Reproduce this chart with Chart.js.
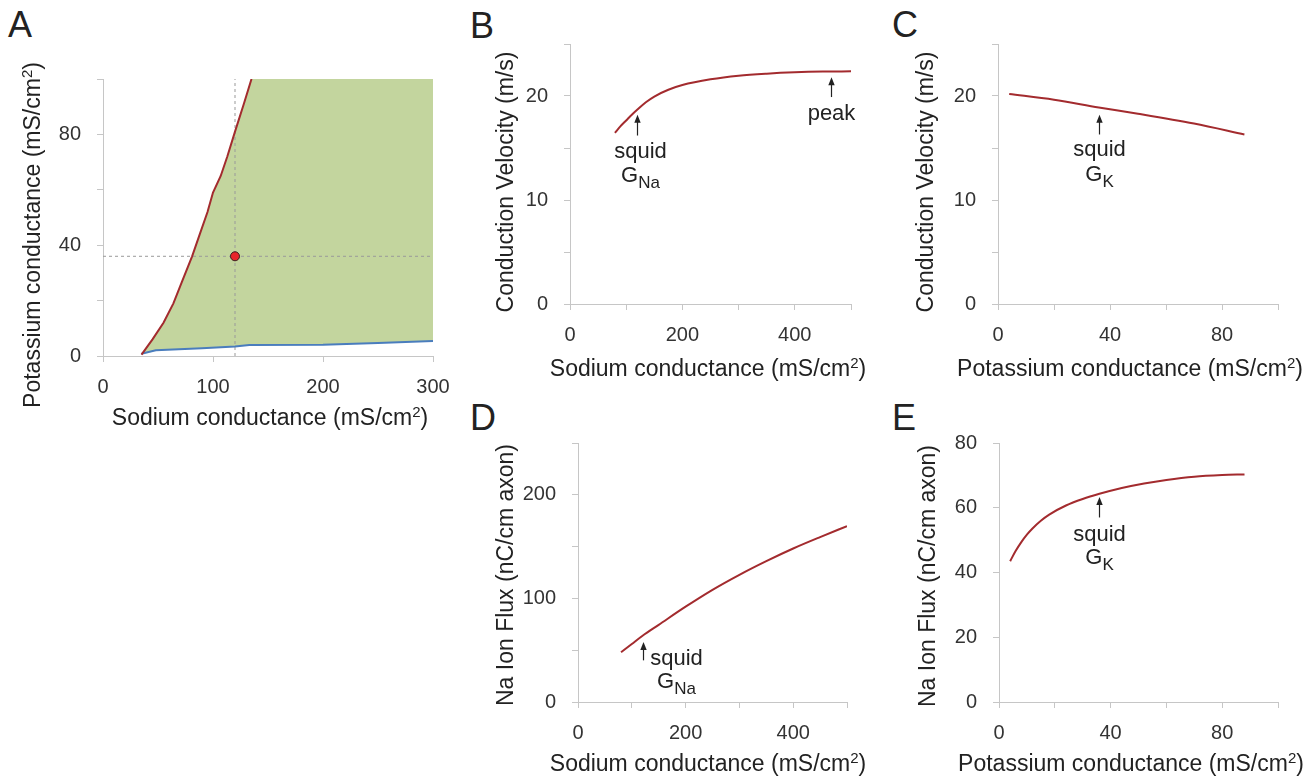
<!DOCTYPE html>
<html>
<head>
<meta charset="utf-8">
<script src="https://cdn.jsdelivr.net/npm/chart.js@4.4.1/dist/chart.umd.min.js"></script>
<style>
  body { margin: 0; background: #fff; }
  #page { position: relative; width: 1308px; height: 778px; overflow: hidden; }
  #page canvas { position: absolute; }
  .tag { position: absolute; font: 36px "Liberation Sans", Arial, sans-serif; line-height: 36px; color: #222; }
</style>
</head>
<body>
<div id="page">
  <div class="tag" style="left:8px;top:7px">A</div>
  <div class="tag" style="left:470px;top:8px">B</div>
  <div class="tag" style="left:892px;top:7px">C</div>
  <div class="tag" style="left:470px;top:400px">D</div>
  <div class="tag" style="left:892px;top:400px">E</div>
  <canvas id="chartA" width="463" height="440" style="left:0;top:0"></canvas>
  <canvas id="chartB" width="430" height="400" style="left:460px;top:0"></canvas>
  <canvas id="chartC" width="418" height="400" style="left:890px;top:0"></canvas>
  <canvas id="chartD" width="430" height="378" style="left:460px;top:400px"></canvas>
  <canvas id="chartE" width="418" height="378" style="left:890px;top:400px"></canvas>
</div>
<script>
// squid axon values
const squidNa = 120;
const squidK = 36;

// A: region of conduction (upper = red boundary, lower = blue boundary)
const redNa = [35, 45, 55, 64, 72, 81, 88, 95, 100, 107, 113, 120, 128, 135];
const redK  = [0.5, 6, 12, 19, 27, 36, 44, 52, 59, 65, 72, 81, 91, 100];
const blueNa = [35, 48, 90, 120, 133, 200, 250, 300];
const blueK  = [0.8, 2.1, 2.8, 3.4, 4.0, 4.1, 4.7, 5.4];

// B: conduction velocity vs sodium conductance
const bNa = [80, 90, 100, 110, 120, 135, 150, 175, 200, 250, 300, 350, 400, 450, 500];
const bVel = [16.45, 17.1, 17.65, 18.2, 18.7, 19.4, 19.95, 20.6, 21.05, 21.6, 21.95, 22.15, 22.28, 22.35, 22.37];
const peakNa = 464;

// C: conduction velocity vs potassium conductance
const cK = [4, 20, 36, 50, 70, 88];
const cVel = [20.2, 19.65, 18.9, 18.3, 17.35, 16.3];

// D: Na ion flux vs sodium conductance
const dNa = [80, 100, 120, 150, 200, 250, 300, 350, 400, 450, 500];
const dFlux = [48, 56, 64, 74.5, 92, 108.3, 122.8, 136, 148.2, 159.2, 169.7];

// E: Na ion flux vs potassium conductance
const eK = [4, 6, 8, 10, 12, 15, 18, 24, 30, 36, 44, 52, 60, 70, 80, 88];
const eFlux = [43.5, 46.7, 49.4, 51.7, 53.6, 56.0, 57.9, 60.7, 62.7, 64.3, 66.1, 67.5, 68.6, 69.6, 70.1, 70.3];

const naTitle = 'Sodium conductance';
const kTitle = 'Potassium conductance';
const cvTitle = 'Conduction Velocity (m/s)';
const fluxTitle = 'Na Ion Flux (nC/cm axon)';

const FONT = '"Liberation Sans", Arial, sans-serif';
const axisGray = '#c6c6c6';
const lineRed = '#a32b2e';
const textCol = '#222';

const pts = (xs, ys) => xs.map((x, i) => ({x: x, y: ys[i]}));

// text made of pieces of different size (superscript / subscript)
const richText = (ctx, parts, cx, cy, rot) => {
    let total = 0;
    parts.forEach(p => {
        ctx.font = p.size + 'px ' + FONT;
        p.w = ctx.measureText(p.t).width;
        total += p.w;
    });
    ctx.save();
    ctx.translate(cx, cy);
    ctx.rotate(rot || 0);
    ctx.textAlign = 'left';
    ctx.textBaseline = 'alphabetic';
    let x = -total / 2;
    parts.forEach(p => {
        ctx.font = p.size + 'px ' + FONT;
        ctx.fillText(p.t, x, 8 + (p.dy || 0));
        x += p.w;
    });
    ctx.restore();
};

const unitParts = (label) => [
    { t: label + ' (mS/cm', size: 23 },
    { t: '2', size: 15, dy: -8 },
    { t: ')', size: 23 }
];

// axis titles, arrows and "squid G" labels
const notesPlugin = {
    id: 'notes',
    afterDraw(chart, args, opts) {
        const ctx = chart.ctx;
        const sx = chart.scales.x, sy = chart.scales.y;
        ctx.save();
        ctx.fillStyle = textCol;
        ctx.strokeStyle = textCol;
        if (opts.xTitle) {
            const t = opts.xTitle;
            richText(ctx, t.parts, t.cx, t.cy, 0);
        }
        if (opts.yTitle) {
            const t = opts.yTitle;
            richText(ctx, t.parts, t.cx, t.cy, -Math.PI / 2);
        }
        (opts.items || []).forEach(n => {
            const px = Math.round(sx.getPixelForValue(n.x)) + 0.5;
            const tipY = sy.getPixelForValue(n.tip);
            const tailY = sy.getPixelForValue(n.tail);
            ctx.lineWidth = 1.2;
            ctx.beginPath();
            ctx.moveTo(px, tailY);
            ctx.lineTo(px, tipY + 5);
            ctx.stroke();
            ctx.beginPath();
            ctx.moveTo(px, tipY);
            ctx.lineTo(px - 3.2, tipY + 8);
            ctx.lineTo(px + 3.2, tipY + 8);
            ctx.closePath();
            ctx.fill();

            const cx = px + n.dx;
            ctx.textBaseline = 'alphabetic';
            ctx.font = '22px ' + FONT;
            ctx.textAlign = 'center';
            ctx.fillText(n.text, cx, tailY + n.dy);
            if (n.sub) {
                ctx.textAlign = 'left';
                ctx.font = '22px ' + FONT;
                const wG = ctx.measureText('G').width;
                ctx.font = '17px ' + FONT;
                const wS = ctx.measureText(n.sub).width;
                const x0 = cx - (wG + wS) / 2;
                const by = tailY + n.dy + n.gap;
                ctx.font = '22px ' + FONT;
                ctx.fillText('G', x0, by);
                ctx.font = '17px ' + FONT;
                ctx.fillText(n.sub, x0 + wG, by + 6);
            }
        });
        ctx.restore();
    }
};
Chart.register(notesPlugin);

const axis = (o) => ({
    type: 'linear',
    min: o.min,
    max: o.max,
    afterFit: (s) => { if (o.w) s.width = o.w; if (o.h) s.height = o.h; },
    grid: { drawOnChartArea: false, drawTicks: true, tickLength: 6, color: axisGray },
    border: { color: axisGray, width: 1 },
    ticks: {
        stepSize: o.step,
        autoSkip: false,
        maxRotation: 0,
        padding: o.pad,
        color: '#333',
        font: { family: FONT, size: 20 },
        callback: (v) => (v % o.every === 0 ? String(v) : '')
    },
    title: { display: false }
});

const baseOptions = (pad, xAx, yAx, notes) => ({
    responsive: false,
    animation: false,
    layout: { padding: pad },
    plugins: {
        legend: { display: false },
        tooltip: { enabled: false },
        filler: { drawTime: 'beforeDatasetsDraw' },
        notes: notes
    },
    scales: { x: xAx, y: yAx }
});

const curve = (data) => ({
    data: data,
    showLine: true,
    borderColor: lineRed,
    borderWidth: 2,
    pointRadius: 0,
    cubicInterpolationMode: 'monotone',
    fill: false
});

// ---- A ----
const regionTop = pts(redNa, redK).concat([{x: 300, y: 100}]);
new Chart(document.getElementById('chartA').getContext('2d'), {
    type: 'scatter',
    data: {
        datasets: [
            { data: regionTop, showLine: true, borderWidth: 0, borderColor: 'rgba(0,0,0,0)', pointRadius: 0,
              backgroundColor: '#c3d59e', fill: 1, order: 5 },
            { data: pts(blueNa, blueK), showLine: true, borderColor: '#4a7dbd', borderWidth: 2, pointRadius: 0, fill: false, order: 3 },
            { data: pts(redNa, redK), showLine: true, borderColor: lineRed, borderWidth: 2, pointRadius: 0, fill: false, order: 2 },
            { data: [{x: squidNa, y: 0}, {x: squidNa, y: 100}], showLine: true, borderColor: '#9a9a9a', borderWidth: 1,
              borderDash: [3, 3], pointRadius: 0, fill: false, order: 4 },
            { data: [{x: 0, y: squidK}, {x: 300, y: squidK}], showLine: true, borderColor: '#9a9a9a', borderWidth: 1,
              borderDash: [3, 3], pointRadius: 0, fill: false, order: 4 },
            { data: [{x: squidNa, y: squidK}], showLine: false, pointRadius: 4.5, backgroundColor: '#e8262a',
              borderColor: '#3a2020', borderWidth: 1, order: 0 }
        ]
    },
    options: baseOptions({ top: 79, right: 30, left: 0, bottom: 0 },
        axis({ min: 0, max: 300, step: 100, every: 100, h: 84, pad: 13 }),
        axis({ min: 0, max: 100, step: 20, every: 40, w: 103, pad: 16 }),
        { xTitle: { parts: unitParts(naTitle), cx: 270, cy: 417 },
          yTitle: { parts: unitParts(kTitle), cx: 32, cy: 235 } })
});

// ---- B ----
new Chart(document.getElementById('chartB').getContext('2d'), {
    type: 'scatter',
    data: { datasets: [curve(pts(bNa, bVel))] },
    options: baseOptions({ top: 44, right: 39, left: 0, bottom: 0 },
        axis({ min: 0, max: 500, step: 100, every: 200, h: 96, pad: 13 }),
        axis({ min: 0, max: 25, step: 5, every: 10, w: 110, pad: 16 }),
        { xTitle: { parts: unitParts(naTitle), cx: 248, cy: 368 },
          yTitle: { parts: [{ t: cvTitle, size: 23 }], cx: 45, cy: 182 },
          items: [
            { x: squidNa, tip: 18.2, tail: 16.2, dx: 3, dy: 22, gap: 24, text: 'squid', sub: 'Na' },
            { x: peakNa, tip: 21.8, tail: 19.9, dx: 0, dy: 23, text: 'peak' }
          ] })
});

// ---- C ----
new Chart(document.getElementById('chartC').getContext('2d'), {
    type: 'scatter',
    data: { datasets: [curve(pts(cK, cVel))] },
    options: baseOptions({ top: 44, right: 30, left: 0, bottom: 0 },
        axis({ min: 0, max: 100, step: 20, every: 40, h: 96, pad: 13 }),
        axis({ min: 0, max: 25, step: 5, every: 10, w: 108, pad: 16 }),
        { xTitle: { parts: unitParts(kTitle), cx: 240, cy: 368 },
          yTitle: { parts: [{ t: cvTitle, size: 23 }], cx: 35, cy: 182 },
          items: [
            { x: squidK, tip: 18.2, tail: 16.3, dx: 0, dy: 22, gap: 25, text: 'squid', sub: 'K' }
          ] })
});

// ---- D ----
new Chart(document.getElementById('chartD').getContext('2d'), {
    type: 'scatter',
    data: { datasets: [curve(pts(dNa, dFlux))] },
    options: baseOptions({ top: 43, right: 43, left: 0, bottom: 0 },
        axis({ min: 0, max: 500, step: 100, every: 200, h: 76, pad: 13 }),
        axis({ min: 0, max: 250, step: 50, every: 100, w: 118, pad: 16 }),
        { xTitle: { parts: unitParts(naTitle), cx: 248, cy: 363 },
          yTitle: { parts: [{ t: fluxTitle, size: 23 }], cx: 45, cy: 175 },
          items: [
            { x: squidNa, tip: 57.9, tail: 40.2, dx: 33, dy: 5, gap: 23, text: 'squid', sub: 'Na' }
          ] })
});

// ---- E ----
new Chart(document.getElementById('chartE').getContext('2d'), {
    type: 'scatter',
    data: { datasets: [curve(pts(eK, eFlux))] },
    options: baseOptions({ top: 43, right: 30, left: 0, bottom: 0 },
        axis({ min: 0, max: 100, step: 20, every: 40, h: 76, pad: 13 }),
        axis({ min: 0, max: 80, step: 20, every: 20, w: 109, pad: 16 }),
        { xTitle: { parts: unitParts(kTitle), cx: 241, cy: 363 },
          yTitle: { parts: [{ t: fluxTitle, size: 23 }], cx: 37, cy: 176 },
          items: [
            { x: squidK, tip: 63.3, tail: 57, dx: 0, dy: 24, gap: 23, text: 'squid', sub: 'K' }
          ] })
});
</script>
</body>
</html>
